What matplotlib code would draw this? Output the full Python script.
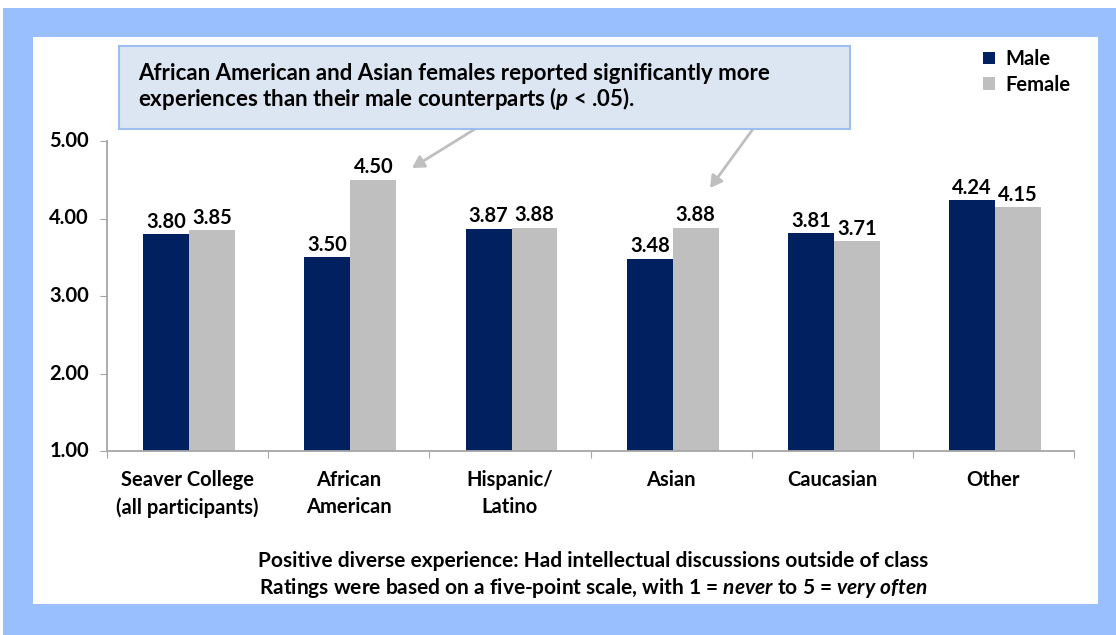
import matplotlib

matplotlib.use('Agg')

import matplotlib.pyplot as plt
import matplotlib.transforms as mtransforms
import numpy as np
from matplotlib.patches import Rectangle, Patch, FancyArrowPatch

# Chart data
categories = ['Seaver College\n(all participants)', 'African\nAmerican', 'Hispanic/\nLatino',
              'Asian', 'Caucasian', 'Other']
male = [3.80, 3.50, 3.87, 3.48, 3.81, 4.24]
female = [3.85, 4.50, 3.88, 3.88, 3.71, 4.15]
y_ticks = [1.0, 2.0, 3.0, 4.0, 5.0]

COLORS = {
    'frame': '#99BFFF',
    'male': '#002060',
    'female': '#BFBFBF',
    'box_fill': '#DCE6F2',
    'box_edge': '#9DBFEF',
    'axis': '#A6A6A6',
    'arrow': '#BFBFBF',
}

plt.rcParams.update({
    'font.family': ['Lato', 'DejaVu Sans'],
    'font.weight': 'bold',
    'mathtext.fontset': 'custom',
    'mathtext.rm': 'Lato:bold',
    'mathtext.it': 'Lato:italic:bold',
    'mathtext.bf': 'Lato:bold',
})

W, H = 1116, 635
FS = 14.5  # base font size


def fx(px):
    return px / W


def fy(py):
    # pixel from top -> figure fraction from bottom
    return 1 - py / H


fig = plt.figure(figsize=(W / 100, H / 100), dpi=100)
fig.patch.set_facecolor('white')

# Blue frame and white panel (drawn behind the axes)
fig.patches.append(Rectangle((fx(3), 0), fx(W - 3), fy(8), transform=fig.transFigure,
                             facecolor=COLORS['frame'], edgecolor='none', zorder=-5))
fig.patches.append(Rectangle((fx(33), fy(604)), fx(1098 - 33), (604 - 37) / H,
                             transform=fig.transFigure, facecolor='white',
                             edgecolor='none', zorder=-4))

# Axes
ax = fig.add_axes([fx(107), fy(451), fx(1074 - 107), (451 - 141) / H])
ax.set_facecolor('none')
n = len(categories)
x = np.arange(n) + 0.5
bw = 0.285
ax.bar(x - bw / 2 + 0.01, male, bw, color=COLORS['male'], zorder=2)
ax.bar(x + bw / 2 + 0.01, female, bw, color=COLORS['female'], zorder=2)

for xi, m, f in zip(x, male, female):
    ax.text(xi - bw / 2 + 0.01, m + 0.03, f'{m:.2f}', ha='center', va='bottom',
            fontsize=FS, fontweight='bold', color='black')
    ax.text(xi + bw / 2 + 0.01, f + 0.03, f'{f:.2f}', ha='center', va='bottom',
            fontsize=FS, fontweight='bold', color='black')

ax.set_xlim(0, n)
ax.set_ylim(1, 5)
ax.set_yticks(y_ticks)
ax.set_yticklabels([])
# y tick labels drawn by hand, right-aligned just left of the tick marks
ylab_tr = mtransforms.blended_transform_factory(fig.transFigure, ax.transData)
for v in y_ticks:
    ax.text(fx(89), v, f'{v:.2f}', transform=ylab_tr, ha='right', va='center',
            fontsize=FS, fontweight='bold', clip_on=False)
ax.set_xticks(np.arange(n + 1))
ax.set_xticklabels([])
ax.set_xticks(x, minor=True)
ax.set_xticklabels(categories, minor=True, fontsize=FS, fontweight='bold',
                   linespacing=1.4)
ax.tick_params(axis='x', which='major', direction='out', length=5, color=COLORS['axis'])
ax.tick_params(axis='x', which='minor', length=0, pad=14)
ax.tick_params(axis='y', direction='out', length=5, color=COLORS['axis'])
for s in ['top', 'right']:
    ax.spines[s].set_visible(False)
for s in ['left', 'bottom']:
    ax.spines[s].set_color(COLORS['axis'])
    ax.spines[s].set_linewidth(1.3)

# Legend
handles = [Patch(facecolor=COLORS['male'], label='Male'),
           Patch(facecolor=COLORS['female'], label='Female')]
fig.legend(handles=handles, loc='upper left', bbox_to_anchor=(fx(965), fy(31)),
           frameon=False, handlelength=0.6, handleheight=0.6,
           handletextpad=0.5, labelspacing=0.28, prop={'weight': 'bold', 'size': FS})

# Annotation box
fig.patches.append(Rectangle((fx(119), fy(129)), fx(850 - 119), (129 - 46) / H,
                             transform=fig.transFigure, facecolor=COLORS['box_fill'],
                             edgecolor=COLORS['box_edge'], linewidth=1.5, zorder=3))
fig.text(fx(138), fy(73), 'African American and Asian females reported significantly more',
         fontsize=16, fontweight='bold', va='center', ha='left', zorder=4)
fig.text(fx(138), fy(99), r'experiences than their male counterparts ($\mathit{p}$ < .05).',
         fontsize=16, fontweight='bold', va='center', ha='left', zorder=4)

# Arrows from box to bars
for (x0, y0), (x1, y1) in [((475, 129), (412, 168)), ((753, 129), (710, 188))]:
    fig.add_artist(FancyArrowPatch(
        (fx(x0), fy(y0)), (fx(x1), fy(y1)), transform=fig.transFigure,
        arrowstyle='-|>,head_length=7,head_width=4', color=COLORS['arrow'],
        linewidth=2, shrinkA=0, shrinkB=0, zorder=3))

# Footnote
fig.text(fx(593), fy(561), 'Positive diverse experience: Had intellectual discussions outside of class',
         fontsize=15, fontweight='bold', ha='center', va='center')
fig.text(fx(593), fy(588),
         r'Ratings were based on a five-point scale, with 1 = $\mathit{never}$ to 5 = $\mathit{very\ often}$',
         fontsize=15, fontweight='bold', ha='center', va='center')

fig.savefig('out.png', dpi=100)
